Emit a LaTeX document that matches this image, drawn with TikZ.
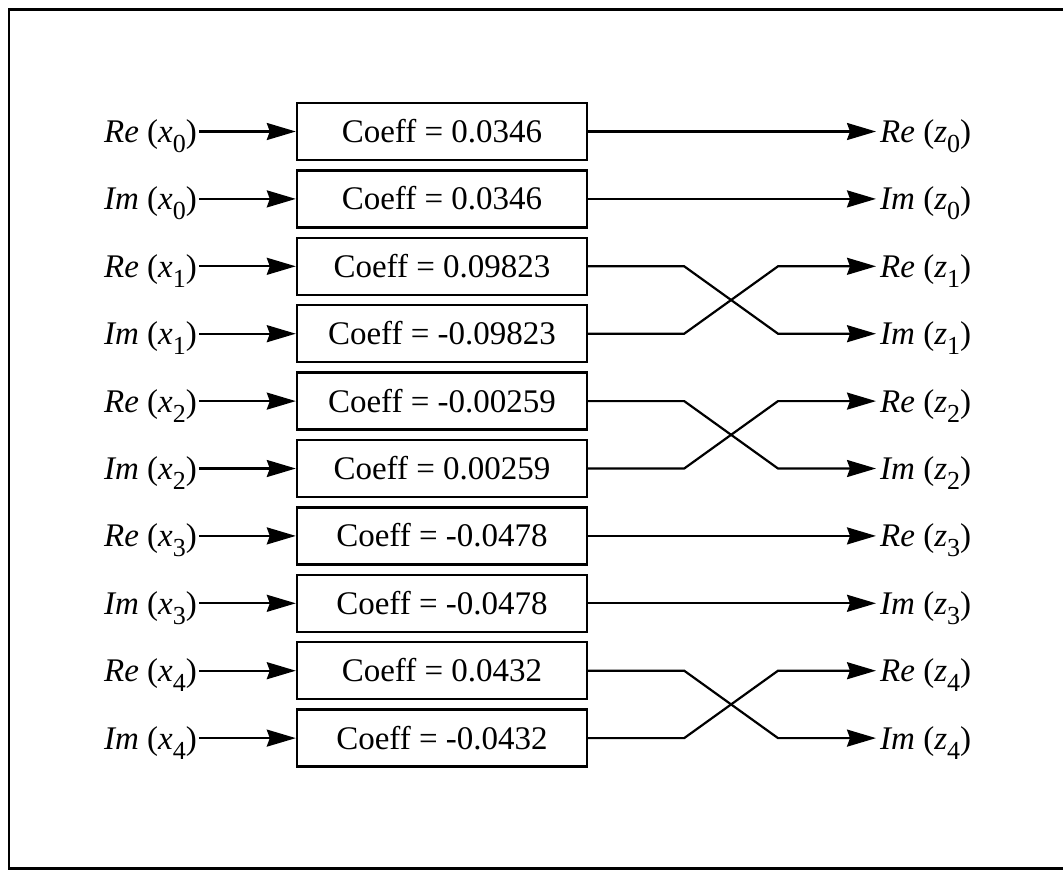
\documentclass[tikz,border=0pt]{standalone}
\usepackage{fontspec}
\setmainfont{Liberation Serif}
\usetikzlibrary{arrows.meta,calc}
\newcommand{\sig}[3]{{\itshape #1} ({\itshape #2}\raisebox{-10pt}{\fontsize{26}{26}\selectfont #3})}
\begin{document}
\begin{tikzpicture}[x=1pt,y=-1pt,
  every node/.style={font=\fontsize{33}{35}\selectfont},
  coeffbox/.style={draw,line width=2.4pt,minimum width=290pt,minimum height=57pt,inner sep=0pt,text height=22pt,text depth=0pt},
  lblin/.style={inner xsep=2pt,inner ysep=0pt,anchor=base east},
  lblout/.style={inner xsep=4pt,inner ysep=0pt,anchor=base west},
  arr/.style={line width=2.2pt,-{Stealth[length=29pt,width=17pt,inset=3pt]}},
  frameline/.style={line width=3pt}]
\useasboundingbox (0,0) rectangle (1063,871);
% frame
\draw[line width=3.5pt] (1063,9.5) -- (9,9.5);
\draw[line width=2.6pt] (9,8) -- (9,869);
\draw[line width=2.6pt] (8,868.5) -- (1063,868.5);
% rows
\foreach \i/\c in {0/0.0346,1/0.0346,2/0.09823,3/-0.09823,4/-0.00259,5/0.00259,6/-0.0478,7/-0.0478,8/0.0432,9/-0.0432}{
  \pgfmathsetmacro{\y}{131.5+67.4*\i}
  \pgfmathtruncatemacro{\k}{int(\i/2)}
  \pgfmathtruncatemacro{\odd}{mod(\i,2)}
  \node[coeffbox] (b\i) at (442,\y) {Coeff = \c};
  \ifnum\odd=0
    \node[lblin] (in\i) at (199,\y+11) {\sig{Re}{x}{\k}};
    \node[lblout] (out\i) at (876,\y+11) {\sig{Re}{z}{\k}};
  \else
    \node[lblin] (in\i) at (199,\y+11) {\sig{Im}{x}{\k}};
    \node[lblout] (out\i) at (876,\y+11) {\sig{Im}{z}{\k}};
  \fi
  \draw[arr] (in\i.east |- b\i.west) -- (b\i.west);
}
% straight outputs
\foreach \i in {0,1,6,7}{
  \draw[arr] (b\i.east) -- (out\i.west |- b\i.east);
}
% crossed outputs
\foreach \a/\b in {2/3,4/5,8/9}{
  \draw[arr] (b\a.east) -- ++(96,0) -- ($(out\b.west |- b\b.east)+(-98,0)$) -- (out\b.west |- b\b.east);
  \draw[arr] (b\b.east) -- ++(96,0) -- ($(out\a.west |- b\a.east)+(-98,0)$) -- (out\a.west |- b\a.east);
}
\end{tikzpicture}
\end{document}
